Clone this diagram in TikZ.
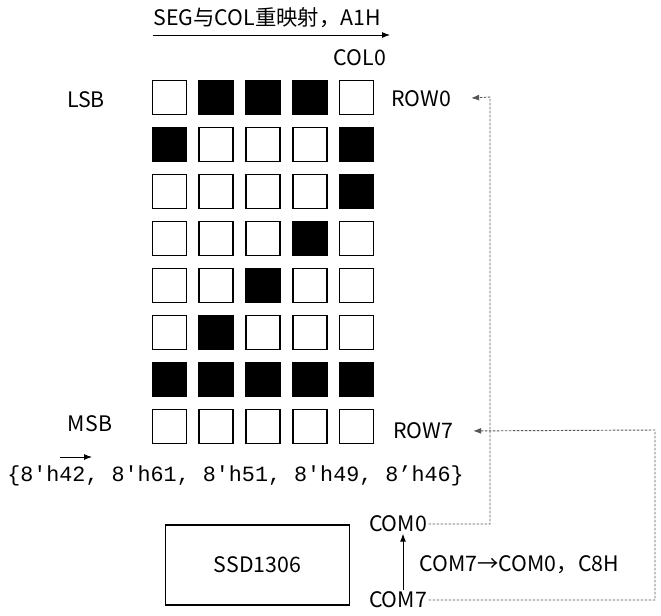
\documentclass[tikz,border=0pt]{standalone}
\usepackage{fontspec}
\setmainfont{Noto Sans CJK SC}
\setmonofont{Liberation Mono}
\usetikzlibrary{arrows.meta,positioning}
\definecolor{linkgray}{HTML}{555555}
\colorlet{bit0}{white}
\colorlet{bit1}{black}

\begin{document}
\begin{tikzpicture}[x=0.75pt, y=-0.75pt,
  cell/.style={draw, line width=1.3pt, minimum size=25.5pt, inner sep=0pt},
  lbl/.style={font=\fontsize{16}{19}\selectfont, inner sep=1pt},
  tip/.style={-{Latex[length=6pt,width=4.5pt]}},
  link/.style={linkgray, line width=0.7pt, dash pattern=on 2pt off 1pt,
    -{Latex[length=6pt,width=4.5pt]}, shorten >=14pt}]
  \useasboundingbox (0,0) rectangle (661,615);

  % dot matrix, one row of bits per COM line
  \foreach \bits [count=\r from 0] in {{0,1,1,1,0},{1,0,0,0,1},{0,0,0,0,1},
      {0,0,0,1,0},{0,0,1,0,0},{0,1,0,0,0},{1,1,1,1,1},{0,0,0,0,0}} {
    \foreach \b [count=\c from 0] in \bits {
      \node[cell, fill=bit\b] (c-\r-\c) at ({169.5+46.75*\c},{97.5+47*\r}) {};
    }
  }

  % labels round the matrix
  \node[lbl] (remap) at (267,18) {SEG与COL重映射，A1H};
  \coordinate (segL) at (153,35);
  \coordinate (segR) at (390,35);
  \draw[tip, line width=0.7pt] (segL) -- (segR);
  \node[lbl] (col0) at (360,58) {COL0};
  \node[lbl] (lsb) at (86,100) {LSB};
  \node[lbl] (msb) at (90,424) {MSB};
  \node[lbl] (row0) at (421,99) {ROW0};
  \node[lbl] (row7) at (423,431) {ROW7};

  % column bytes
  \node[font=\ttfamily\fontsize{16.3}{19}\selectfont, anchor=west, inner sep=0pt]
    (bytes) at (7,476) {\{8'h42, 8'h61, 8'h51, 8'h49, 8’h46\}};
  \coordinate (hexL) at (60,457);
  \coordinate (hexR) at (92,457);
  \draw[tip, line width=0.7pt] (hexL) -- (hexR);

  % controller and COM scan
  \node[draw, line width=0.8pt, minimum width=138pt, minimum height=60pt, lbl]
    (ssd) at (257.5,565) {SSD1306};
  \node[lbl] (com0) at (398,524) {COM0};
  \node[lbl] (com7) at (398,600) {COM7};
  \node[lbl, anchor=west] (scan) at (418,565) {COM7→COM0，C8H};
  \draw[tip, line width=0.7pt] ([xshift=3.75pt]com7.north) -- ([xshift=3.75pt]com0.south);

  \coordinate (bend0) at (490,97);
  \coordinate (bend7) at (655,430);
  \draw[link] (com0.east) -| (bend0) -- (row0.east);
  \draw[link] (com7.east) -| (bend7) -- (row7.east);
\end{tikzpicture}
\end{document}
